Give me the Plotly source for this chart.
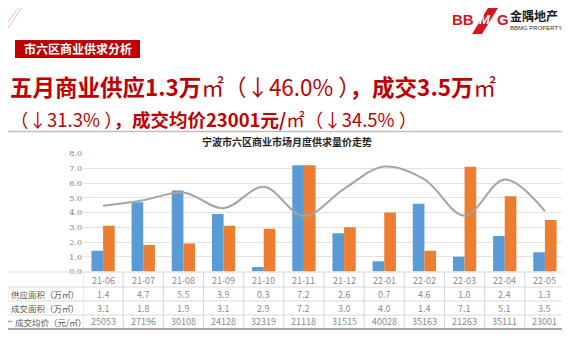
import plotly.graph_objects as go

# ---------------- data ----------------
categories = ["21-06", "21-07", "21-08", "21-09", "21-10", "21-11",
              "21-12", "22-01", "22-02", "22-03", "22-04", "22-05"]
supply_area = [1.4, 4.7, 5.5, 3.9, 0.3, 7.2, 2.6, 0.7, 4.6, 1.0, 2.4, 1.3]
deal_area = [3.1, 1.8, 1.9, 3.1, 2.9, 7.2, 3.0, 4.0, 1.4, 7.1, 5.1, 3.5]
deal_price = [25053, 27196, 30108, 24128, 32319, 21118, 31515, 40028,
              35163, 21263, 35111, 23001]
row_labels = ["供应面积（万㎡）", "成交面积（万㎡）", "成交均价（元/㎡）"]
chart_title = "宁波市六区商业市场月度供求量价走势"
section_label = "市六区商业供求分析"

# page is shown with an 8px body margin: size the figure to the visible area
OFF = 8
W, H = 570 - OFF, 360 - OFF
FONT = "Noto Sans CJK SC"
RED = "#C00000"
BLUE = "#5B9BD5"
ORANGE = "#ED7D31"
GRAY = "#A5A5A5"


def px(x):
    return (x - OFF) / W


def py(y):
    return 1 - (y - OFF) / H


fig = go.Figure()
fig.add_trace(go.Bar(x=categories, y=supply_area, name=row_labels[0],
                     marker=dict(color=BLUE, line=dict(width=0))))
fig.add_trace(go.Bar(x=categories, y=deal_area, name=row_labels[1],
                     marker=dict(color=ORANGE, line=dict(width=0))))
fig.add_trace(go.Scatter(x=categories, y=deal_price, name=row_labels[2],
                         yaxis="y2", mode="lines",
                         line=dict(color=GRAY, width=2, shape="spline",
                                   smoothing=1.0)))

x0, x1 = 83, 565
y_top, y_bot = 153.5, 271.5

fig.update_layout(
    width=W, height=H,
    margin=dict(l=0, r=0, t=0, b=0, autoexpand=False),
    paper_bgcolor="white", plot_bgcolor="white",
    showlegend=False,
    barmode="group", bargap=0.42, bargroupgap=0,
    font=dict(family=FONT, color="#595959"),
    xaxis=dict(type="category", domain=[px(x0), px(x1)], range=[-0.5, 11.5],
               showticklabels=False, showgrid=False, zeroline=False,
               showline=False, fixedrange=True, automargin=False),
    yaxis=dict(domain=[py(y_bot), py(y_top)], range=[0, 8], dtick=1,
               tickformat=".1f", showgrid=True, gridcolor="#E3E3E3",
               gridwidth=1, zeroline=False, showline=False,
               tickfont=dict(size=8, color="#7F7F7F", family="DejaVu Serif"),
               ticks="", fixedrange=True, automargin=False),
    yaxis2=dict(range=[0, 45000], overlaying="y", side="right",
                visible=False, automargin=False),
)

shapes = []
annotations = []


def note(x, y, text, font, xanchor="center", xref="paper"):
    annotations.append(dict(x=x, y=y, xref=xref, yref="paper", text=text,
                            showarrow=False, xanchor=xanchor,
                            yanchor="middle", font=font))


# chart border line at top
shapes.append(dict(type="line", xref="paper", yref="paper",
                   x0=0, x1=1, y0=py(131.5), y1=py(131.5),
                   line=dict(color="#BFBFBF", width=1.5)))

# table grid
tbl_top, tbl_bot = 272, 328
row_y = [280, 294, 308, 321.5]
for yy in [272, 287, 301, 315]:
    shapes.append(dict(type="line", xref="paper", yref="paper",
                       x0=0, x1=px(x1), y0=py(yy), y1=py(yy),
                       line=dict(color="#D9D9D9", width=1)))
for i in range(len(categories) + 1):
    shapes.append(dict(type="line", xref="x", yref="paper",
                       x0=i - 0.5, x1=i - 0.5, y0=py(tbl_top), y1=py(tbl_bot),
                       line=dict(color="#D9D9D9", width=1)))
shapes.append(dict(type="line", xref="paper", yref="paper",
                   x0=0, x1=1, y0=py(329), y1=py(329),
                   line=dict(color="#A6A6A6", width=2)))

cell_font = dict(family=FONT, size=9, color="#8C8C8C")
for i, c in enumerate(categories):
    note(c, py(row_y[0]), c, cell_font, xref="x")
    note(c, py(row_y[1]), f"{supply_area[i]:.1f}", cell_font, xref="x")
    note(c, py(row_y[2]), f"{deal_area[i]:.1f}", cell_font, xref="x")
    note(c, py(row_y[3]), str(deal_price[i]), cell_font, xref="x")

label_font = dict(family=FONT, size=8.5, color="#595959")
for k, lab in enumerate(row_labels):
    xl = 9 if k < 2 else 13
    note(px(xl), py(row_y[k + 1]), lab, label_font, xanchor="left")
# line legend key for price row
shapes.append(dict(type="line", xref="paper", yref="paper",
                   x0=px(8), x1=px(12), y0=py(321.5), y1=py(321.5),
                   line=dict(color=GRAY, width=1.5)))

# chart title
note(px(287), py(142), f"<b>{chart_title}</b>",
     dict(family=FONT, size=10, color="#262626"))

# headline text
note(px(8), py(86), "<b>五月商业供应1.3万</b>㎡（↓46.0% ）<b>，成交3.5万</b>㎡",
     dict(family=FONT, size=22.5, color=RED), xanchor="left")
note(px(8), py(119), "（↓31.3% ）<b>，成交均价23001元/</b>㎡（↓34.5% ）",
     dict(family=FONT, size=18.5, color=RED), xanchor="left")

# section label box
shapes.append(dict(type="rect", xref="paper", yref="paper",
                   x0=px(15), x1=px(140), y0=py(58), y1=py(40),
                   fillcolor=RED, line=dict(width=0)))
note(px(77.5), py(49), f"<b>{section_label}</b>",
     dict(family=FONT, size=12, color="white"))

# top-left decorative lines
for off in [0, 6]:
    shapes.append(dict(type="line", xref="paper", yref="paper",
                       x0=0, y0=py(22 + off), x1=px(18 + off * 0.6), y1=py(8),
                       line=dict(color="#F2B8B8", width=1)))

# logo
shapes.append(dict(type="path", xref="paper", yref="paper",
                   path=(f"M {px(472)},{py(34)} L {px(482)},{py(34)} "
                         f"L {px(498)},{py(8)} L {px(488)},{py(8)} Z"),
                   fillcolor="#D7141A", line=dict(width=0)))
note(px(450), py(20), "<b>BB</b>",
     dict(family="Liberation Sans", size=15, color="#D7141A"), xanchor="left")
note(px(485), py(20), "<b><i>M</i></b>",
     dict(family="Liberation Sans", size=13, color="white"))
note(px(495), py(20), "<b>G</b>",
     dict(family="Liberation Sans", size=15, color="#D7141A"), xanchor="left")
note(px(508), py(15), "<b>金隅地产</b>",
     dict(family=FONT, size=12, color="#1A1A1A"), xanchor="left")
note(px(508), py(28), "BBMG PROPERTY",
     dict(family="Liberation Sans", size=6, color="#333333"), xanchor="left")

fig.update_layout(shapes=shapes, annotations=annotations)
fig.write_html("out.html")
